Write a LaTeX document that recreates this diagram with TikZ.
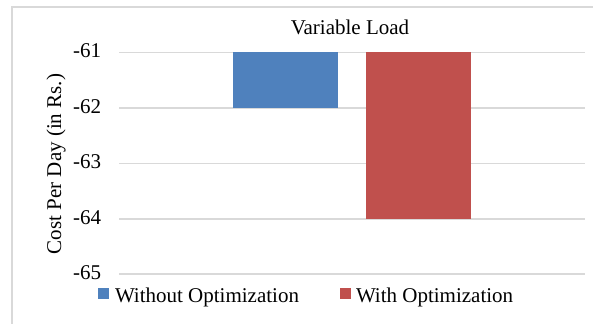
\documentclass[tikz,border=0pt]{standalone}
\usepackage{fontspec}
\setmainfont{Liberation Serif}
\definecolor{gridgray}{HTML}{D9D9D9}
\definecolor{barblue}{HTML}{4F81BD}
\definecolor{barred}{HTML}{C0504D}
\begin{document}
\begin{tikzpicture}[x=0.75pt,y=-0.75pt,
  every node/.style={inner sep=0pt,outer sep=0pt,font=\fontsize{15.75}{18}\selectfont},
  grid/.style={draw=gridgray,line width=1.1pt},
  frame/.style={draw=gridgray,line width=0.9pt},
  ticklbl/.style={anchor=base east}]
\useasboundingbox (0,0) rectangle (593,324);
\fill[white] (0,0) rectangle (593,324);
% frame
\draw[frame] (12,324) -- (12,7) -- (593,7);
% gridlines
\foreach \v/\y in {61/52.5,62/108,63/163.5,64/219,65/274}{
  \draw[grid] (119,\y) -- (585,\y);
  \node[ticklbl] (t\v) at (101,\y+5.5) {-\v};
}
% bars
\fill[barblue] (233,52.5) rectangle (338,108);
\fill[barred] (366,52.5) rectangle (471,219);
% title
\node[anchor=base] (title) at (350,35) {Variable Load};
% y label
\node[rotate=90,anchor=base] (ylab) at (61,164) {Cost Per Day (in Rs.)};
% legend
\fill[barblue] (98,288) rectangle (109,298.5);
\node[anchor=base west] (leg1) at (115,302) {Without Optimization};
\fill[barred] (340,288) rectangle (351,298.5);
\node[anchor=base west] (leg2) at (356,302) {With Optimization};
\end{tikzpicture}
\end{document}
